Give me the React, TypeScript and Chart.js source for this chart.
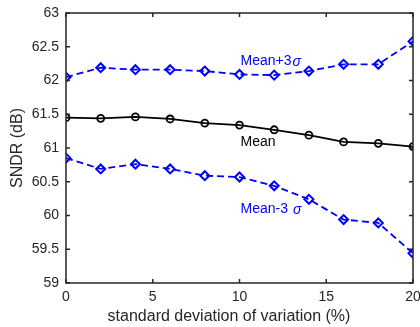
import React, { useEffect, useRef } from "react";
import { Chart, registerables } from "chart.js";

Chart.register(...registerables);

const xValues = [0, 2, 4, 6, 8, 10, 12, 14, 16, 18, 20];
const meanPlus3Sigma = [62.05, 62.19, 62.16, 62.16, 62.14, 62.09, 62.08, 62.14, 62.24, 62.24, 62.58];
const meanValues = [61.45, 61.44, 61.46, 61.43, 61.37, 61.34, 61.27, 61.19, 61.09, 61.07, 61.02];
const meanMinus3Sigma = [60.85, 60.69, 60.76, 60.69, 60.59, 60.57, 60.44, 60.24, 59.94, 59.89, 59.44];

const xTicks = [0, 5, 10, 15, 20];
const yTicks = [59, 59.5, 60, 60.5, 61, 61.5, 62, 62.5, 63];

const xTitle = "standard deviation of variation (%)";
const yTitle = "SNDR (dB)";

const labelTexts = ["Mean+3", "Mean", "Mean-3 "];
const labelSigma = ["σ", "", "σ"];
const labelColors = ["#0000ff", "#000000", "#0000ff"];
const labelX = [10.06, 10.06, 10.06];
const labelY = [62.29, 61.09, 60.1];

const FONT = '"Liberation Sans", Arial, Helvetica, sans-serif';
const AXIS_COLOR = "#262626";

const framePlugin = {
  id: "frameAndLabels",
  afterDatasetsDraw(chart: any) {
    const ctx = chart.ctx;
    const { left, right, top, bottom } = chart.chartArea;
    const xs = chart.scales.x;
    const ys = chart.scales.y;
    ctx.save();
    // text annotations
    for (let i = 0; i < labelTexts.length; i++) {
      const px = xs.getPixelForValue(labelX[i]);
      const py = ys.getPixelForValue(labelY[i]);
      ctx.fillStyle = labelColors[i];
      ctx.textBaseline = "middle";
      ctx.textAlign = "left";
      ctx.font = `14px ${FONT}`;
      ctx.fillText(labelTexts[i], px, py);
      if (labelSigma[i]) {
        const w = ctx.measureText(labelTexts[i]).width;
        ctx.font = `italic 14px ${FONT}`;
        ctx.fillText(labelSigma[i], px + w + 1, py + 1);
      }
    }
    // x-axis title (offset slightly left of the axes centre, as in the source)
    ctx.fillStyle = AXIS_COLOR;
    ctx.font = `16px ${FONT}`;
    ctx.textAlign = "center";
    ctx.textBaseline = "middle";
    ctx.fillText(xTitle, (left + right) / 2 - 10.5, 316.5);
    // frame
    ctx.strokeStyle = AXIS_COLOR;
    ctx.lineWidth = 1.5;
    ctx.strokeRect(left, top, right - left, bottom - top);
    const tl = 4;
    ctx.beginPath();
    for (const v of xTicks) {
      const p = xs.getPixelForValue(v);
      ctx.moveTo(p, bottom);
      ctx.lineTo(p, bottom - tl);
      ctx.moveTo(p, top);
      ctx.lineTo(p, top + tl);
    }
    for (const v of yTicks) {
      const p = ys.getPixelForValue(v);
      ctx.moveTo(left, p);
      ctx.lineTo(left + tl, p);
      ctx.moveTo(right, p);
      ctx.lineTo(right - tl, p);
    }
    ctx.stroke();
    ctx.restore();
  },
};

export default function App() {
  const canvasRef = useRef<HTMLCanvasElement | null>(null);

  useEffect(() => {
    document.body.style.margin = "0";
    const canvas = canvasRef.current;
    if (!canvas) return;
    const mk = (data: number[]) => xValues.map((x, i) => ({ x, y: data[i] }));
    const blueSeries = (label: string, data: number[]) => ({
      label,
      data: mk(data),
      borderColor: "#0000ff",
      backgroundColor: "rgba(0,0,0,0)",
      borderWidth: 1.8,
      borderDash: [7, 4],
      pointStyle: "rectRot",
      pointRadius: 4.5,
      pointBorderWidth: 2,
      pointBorderColor: "#0000ff",
      pointBackgroundColor: "rgba(255,255,255,0)",
      fill: false,
    });
    const chart = new Chart(canvas, {
      type: "line",
      data: {
        datasets: [
          blueSeries("Mean+3σ", meanPlus3Sigma),
          {
            label: "Mean",
            data: mk(meanValues),
            borderColor: "#000000",
            backgroundColor: "rgba(0,0,0,0)",
            borderWidth: 1.8,
            pointStyle: "circle",
            pointRadius: 3.5,
            pointBorderWidth: 1.8,
            pointBorderColor: "#000000",
            pointBackgroundColor: "rgba(255,255,255,0)",
            fill: false,
          },
          blueSeries("Mean-3σ", meanMinus3Sigma),
        ] as any,
      },
      options: {
        responsive: false,
        animation: false,
        layout: { padding: { top: 13, right: 7, bottom: 0, left: 0 } },
        plugins: {
          legend: { display: false },
          tooltip: { enabled: false },
        },
        scales: {
          x: {
            type: "linear",
            min: 0,
            max: 20,
            grid: { display: false, drawTicks: false },
            border: { display: false },
            afterBuildTicks: (s: any) => {
              s.ticks = xTicks.map((v) => ({ value: v }));
            },
            afterFit: (s: any) => {
              s.height = 44;
              s.paddingLeft = 0;
              s.paddingRight = 0;
            },
            ticks: {
              padding: 6,
              color: AXIS_COLOR,
              font: { family: FONT, size: 14 },
              maxRotation: 0,
              callback: (v: any) => String(v),
            },
            title: { display: false },
          },
          y: {
            type: "linear",
            min: 59,
            max: 63,
            grid: { display: false, drawTicks: false },
            border: { display: false },
            afterBuildTicks: (s: any) => {
              s.ticks = yTicks.map((v) => ({ value: v }));
            },
            afterFit: (s: any) => {
              s.width = 66;
              s.paddingTop = 0;
              s.paddingBottom = 0;
            },
            ticks: {
              padding: 7,
              color: AXIS_COLOR,
              font: { family: FONT, size: 14 },
              callback: (v: any) => String(v),
            },
            title: {
              display: true,
              text: yTitle,
              color: AXIS_COLOR,
              font: { family: FONT, size: 16 },
              padding: { top: 7.5, bottom: 0 },
            },
          },
        },
      },
      plugins: [framePlugin],
    });
    return () => chart.destroy();
  }, []);

  return (
    <div style={{ width: 420, height: 327, background: "#fff" }}>
      <canvas ref={canvasRef} width={420} height={327} style={{ display: "block" }} />
    </div>
  );
}
